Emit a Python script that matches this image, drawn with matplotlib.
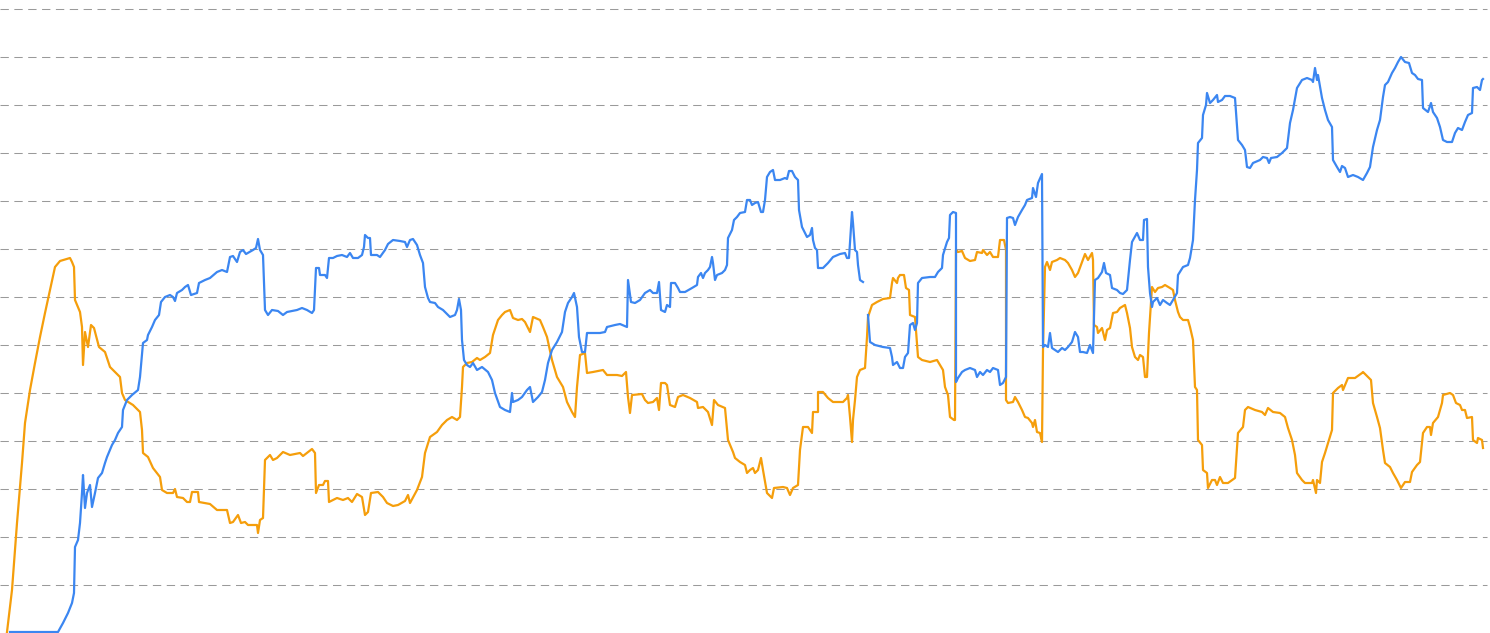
import numpy as np
import matplotlib
matplotlib.use("Agg")
import matplotlib.pyplot as plt

# Series values (x = time index, y = value; gridline step = 48 units)
orange_x = [7,12,17,22,25,30,35,40,45,50,55,60,70,72,74,75,80,82,83,85,88,91,94,99,105,107,110,115,120,122,125,133,140,142,143,148,153,160,162,167,173,175,177,183,187,190,192,198,199,210,217,227,230,233,238,241,245,248,257,258,260,263,265,270,273,277,283,290,300,303,312,315,316,319,323,325,328,329,337,343,348,352,357,362,365,368,371,378,383,387,393,398,405,408,410,417,422,425,430,437,442,447,452,457,460,462,463,467,472,477,480,485,490,493,498,502,505,510,513,518,522,525,530,533,540,543,547,552,557,563,567,572,575,577,580,585,587,593,603,607,617,622,626,628,630,632,642,645,648,653,657,659,661,665,667,670,675,678,683,690,697,698,703,708,712,714,718,725,728,733,735,740,745,747,750,753,755,758,761,763,767,772,774,783,787,790,793,798,800,803,808,812,813,818,818,823,828,833,843,847,848,850,852,853,855,857,860,865,867,868,872,877,883,890,892,893,897,898,900,904,906,909,910,915,918,922,930,937,940,943,945,948,950,954,955,956,958,962,965,970,975,977,982,983,987,990,993,998,1000,1004,1006,1006,1008,1013,1015,1018,1022,1025,1028,1032,1033,1035,1037,1040,1042,1043,1045,1047,1050,1052,1057,1060,1065,1068,1072,1075,1078,1082,1085,1088,1092,1093,1094,1097,1098,1102,1105,1107,1110,1113,1117,1120,1125,1127,1130,1132,1135,1138,1140,1143,1145,1147,1149,1152,1155,1158,1162,1165,1170,1173,1175,1178,1180,1183,1188,1190,1193,1195,1197,1198,1202,1203,1207,1208,1212,1215,1217,1220,1223,1228,1235,1238,1243,1245,1248,1255,1262,1265,1268,1273,1280,1285,1288,1292,1295,1297,1302,1305,1312,1313,1316,1317,1320,1322,1325,1328,1332,1333,1338,1342,1343,1348,1355,1362,1363,1368,1371,1373,1377,1380,1383,1385,1390,1393,1397,1401,1405,1410,1412,1417,1420,1423,1427,1430,1431,1433,1438,1442,1443,1450,1453,1456,1460,1462,1465,1467,1472,1473,1477,1478,1482,1483]
orange_y = [1,43,110,170,210,243,270,296,320,343,366,372,375,371,366,333,321,306,268,301,286,308,305,286,281,275,266,261,256,240,233,228,221,203,180,176,165,156,143,140,140,144,136,135,131,131,141,141,131,129,123,123,110,111,118,110,111,108,108,100,113,115,173,178,173,175,181,178,180,177,184,180,140,148,148,152,152,131,135,133,135,131,139,136,118,121,140,141,136,130,127,128,132,138,130,143,156,180,196,201,208,213,216,213,216,246,266,270,271,275,273,276,280,298,313,318,321,323,315,313,314,311,301,316,313,306,296,273,256,246,231,221,216,246,278,280,260,261,263,258,258,257,261,236,220,238,239,233,230,231,235,223,250,250,248,228,226,236,238,235,231,225,226,221,208,233,228,225,193,181,175,171,168,160,163,165,160,163,175,163,140,135,145,146,145,138,145,148,183,206,206,200,221,221,241,241,235,231,231,235,238,216,191,213,233,256,263,265,296,316,328,331,334,335,350,355,350,355,358,358,345,343,318,316,276,273,271,273,268,263,246,238,216,213,213,383,381,382,375,372,373,381,380,383,378,381,376,376,393,393,383,233,230,231,236,231,223,216,215,210,206,213,201,200,191,283,366,371,363,371,373,375,373,370,363,356,360,371,379,373,380,373,308,306,300,305,293,303,305,320,321,325,328,320,305,286,276,273,278,276,256,256,300,346,341,345,346,348,345,343,333,321,316,313,313,306,293,246,243,193,188,163,160,145,153,153,148,156,150,150,155,200,206,223,226,223,221,218,225,221,220,216,205,193,178,160,153,150,150,153,140,153,150,171,180,190,203,240,245,248,243,255,255,260,261,256,253,230,216,205,183,170,166,160,153,145,151,151,161,168,171,200,206,206,198,210,216,230,238,240,238,230,228,223,223,215,216,193,190,195,193,185]

blue_x = [10,58,63,68,72,74,75,78,80,82,83,85,87,90,92,95,98,102,105,107,112,115,118,122,123,127,132,138,140,143,147,148,152,155,159,161,165,170,173,175,177,182,185,188,191,197,199,205,210,217,222,227,230,233,237,240,243,246,253,256,258,260,263,265,268,272,278,283,287,297,302,307,312,314,316,319,320,325,327,329,333,337,342,347,350,353,358,362,364,365,368,370,371,377,380,385,388,393,400,405,407,410,413,417,420,423,425,428,430,435,438,443,450,455,457,459,461,462,464,467,470,473,477,482,488,492,495,500,505,510,512,513,518,522,527,530,533,538,542,545,548,552,557,562,565,568,572,574,577,579,582,585,587,593,600,605,607,615,620,627,628,631,635,640,645,650,653,657,659,661,665,667,670,671,675,678,680,685,692,697,698,701,703,705,708,710,712,713,715,717,722,725,727,728,732,734,737,740,745,747,750,752,755,758,761,763,765,767,770,773,775,780,785,787,789,792,795,798,799,802,807,810,812,813,815,817,818,823,828,833,840,845,847,849,852,853,855,857,858,860,863,865,868,870,875,883,890,892,893,897,900,903,905,908,910,913,915,917,918,922,930,935,938,942,943,947,949,950,953,956,956,958,962,965,970,975,977,980,983,987,990,993,998,1000,1003,1006,1007,1010,1013,1015,1018,1022,1025,1027,1032,1033,1036,1038,1042,1043,1045,1048,1050,1052,1055,1058,1062,1065,1068,1072,1075,1078,1080,1083,1087,1090,1093,1095,1098,1102,1104,1106,1110,1112,1117,1120,1123,1127,1130,1132,1137,1140,1143,1144,1147,1148,1150,1152,1153,1157,1160,1163,1167,1170,1173,1177,1178,1183,1188,1190,1193,1195,1197,1198,1202,1203,1206,1207,1210,1213,1217,1218,1222,1225,1230,1235,1238,1242,1245,1247,1250,1253,1260,1263,1267,1269,1271,1277,1282,1287,1290,1293,1297,1302,1307,1312,1313,1315,1317,1318,1322,1325,1328,1332,1333,1337,1340,1342,1345,1348,1353,1358,1363,1367,1370,1373,1377,1380,1383,1385,1388,1392,1395,1398,1401,1405,1409,1412,1415,1418,1422,1423,1428,1431,1433,1437,1440,1443,1447,1452,1455,1458,1462,1465,1468,1472,1473,1477,1480,1482,1483]
blue_y = [1,1,10,20,30,40,86,93,110,140,158,125,140,148,126,140,155,160,170,176,188,193,200,206,223,233,238,243,256,290,293,298,306,313,318,331,336,338,336,332,340,343,346,348,338,340,350,353,355,361,363,361,376,377,371,381,383,379,383,385,394,383,378,323,318,323,322,318,321,323,325,323,320,323,365,365,358,358,355,375,375,377,378,376,380,375,375,378,386,398,395,395,378,378,376,383,389,393,392,391,386,393,394,388,378,370,346,335,331,330,326,323,316,318,323,334,323,293,273,268,266,270,263,266,261,253,240,226,223,221,240,231,233,236,243,246,231,236,241,253,270,283,291,301,321,330,336,340,326,296,281,281,300,300,300,301,306,308,309,306,353,331,330,333,340,343,340,340,351,323,321,328,326,350,350,345,341,341,345,348,356,360,355,360,363,366,376,370,353,358,360,363,368,395,403,413,416,420,421,433,433,428,430,431,421,421,433,456,461,463,453,453,455,454,462,462,456,453,423,406,396,398,405,393,385,383,365,365,370,376,379,380,375,375,421,410,383,381,368,353,351,None,318,291,288,286,285,276,268,271,265,265,276,280,308,310,303,310,350,355,356,356,361,365,378,391,395,418,421,420,251,255,261,263,265,263,256,261,258,263,261,265,263,248,250,256,415,416,415,408,416,423,428,433,435,445,436,450,459,286,288,286,300,285,283,281,285,283,286,291,301,296,281,281,280,288,280,353,355,361,370,360,358,345,343,340,339,343,373,391,400,393,393,413,414,366,340,326,331,335,328,333,330,328,333,340,358,366,368,375,393,433,463,490,495,518,528,540,530,533,538,531,533,537,537,535,493,488,483,466,465,470,473,476,475,470,475,476,480,485,510,523,545,553,555,553,551,565,553,558,535,523,513,506,473,466,461,467,465,456,458,456,453,460,466,486,503,513,536,548,551,560,565,571,576,571,570,560,558,554,553,525,521,530,521,515,506,493,491,491,500,505,503,511,518,520,545,546,543,553,554]

grid_levels = [48 * k for k in range(1, 14)]

BLUE = "#3B86F1"
ORANGE = "#F59E0B"

fig = plt.figure(figsize=(14.9, 6.33), dpi=100)
ax = fig.add_axes([0, 0, 1, 1])
ax.set_xlim(0, 1490)
ax.set_ylim(0, 633)
for g in grid_levels:
    ax.axhline(g, xmin=0, xmax=1487 / 1490, color="#9a9a9a", lw=0.75,
               dashes=(8, 5.3), zorder=1)

ax.plot(np.array(orange_x, dtype=float), np.array(orange_y, dtype=float),
        color=ORANGE, lw=1.6, solid_joinstyle="round", zorder=3)
ax.plot(np.array(blue_x, dtype=float), np.array(blue_y, dtype=float),
        color=BLUE, lw=1.6, solid_joinstyle="round", zorder=4)

ax.set_axis_off()
fig.savefig("out.png", dpi=100, facecolor="white")
